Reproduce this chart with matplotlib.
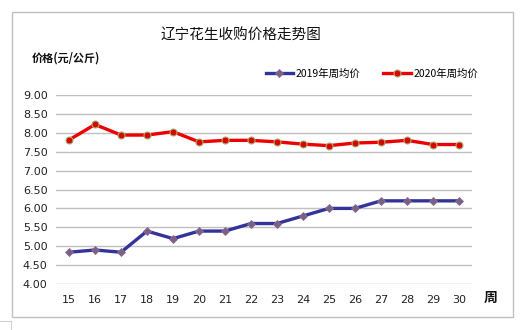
import matplotlib
matplotlib.use("Agg")
import matplotlib.pyplot as plt
from matplotlib.lines import Line2D
from matplotlib.patches import Rectangle

plt.rcParams['font.family'] = ['Noto Sans CJK SC', 'DejaVu Sans']

weeks = [str(w) for w in range(15, 31)]
price_2019 = [4.84, 4.90, 4.84, 5.40, 5.20, 5.40, 5.40, 5.60, 5.60, 5.80, 6.00, 6.00, 6.20, 6.20, 6.20, 6.20]
price_2020 = [7.81, 8.22, 7.94, 7.94, 8.03, 7.76, 7.80, 7.80, 7.76, 7.70, 7.66, 7.73, 7.75, 7.80, 7.69, 7.69]
yticks = [4.00, 4.50, 5.00, 5.50, 6.00, 6.50, 7.00, 7.50, 8.00, 8.50, 9.00]
labels = ['2019年周均价', '2020年周均价']
title = '辽宁花生收购价格走势图'

W, H = 524, 330
fig = plt.figure(figsize=(W / 100, H / 100), dpi=100)

# outer chart border
fig.patches.append(Rectangle((12 / W, 1 - 317 / H), (513 - 12) / W, (317 - 12) / H,
                             transform=fig.transFigure, fill=False, edgecolor='#c0c0c0', lw=1.0))
fig.add_artist(Line2D([0, 11 / W], [1 - 321 / H, 1 - 321 / H], transform=fig.transFigure, color='#d0d0d0', lw=0.8))
fig.add_artist(Line2D([11 / W, 11 / W], [1 - 321 / H, 0], transform=fig.transFigure, color='#d0d0d0', lw=0.8))

# plot area: x 56..472, y 95..284
ax = fig.add_axes([56 / W, 1 - 284 / H, (472 - 56) / W, (284 - 95) / H])
x = list(range(len(weeks)))
ax.plot(x, price_2019, color='#333399', lw=2.4, marker='D', markersize=4,
        markerfacecolor='#7f5f7f', markeredgecolor='#7f6f9f', markeredgewidth=0.6, label=labels[0], zorder=3)
ax.plot(x, price_2020, color='#ee0000', lw=2.4, marker='o', markersize=5,
        markerfacecolor='#dd0000', markeredgecolor='#a0b070', markeredgewidth=0.8, label=labels[1], zorder=3)

ax.set_xlim(-0.5, len(weeks) - 0.5)
ax.set_ylim(4.0, 9.0)
ax.set_yticks(yticks)
ax.set_yticklabels([f'{v:.2f}' for v in yticks], fontsize=8, color='#222222', family='DejaVu Sans')
ax.set_xticks(x)
ax.set_xticklabels(weeks, fontsize=8, color='#222222', family='DejaVu Sans')
ax.grid(axis='y', color='#c0c0c0', lw=1.0)
ax.set_axisbelow(True)
for s in ax.spines.values():
    s.set_visible(False)
ax.tick_params(length=0, pad=8)
ax.tick_params(axis='y', pad=6)

fig.text(241 / W, 1 - 36 / H, title, ha='center', va='center', fontsize=10.5, color='#111111')
fig.text(32 / W, 1 - 58 / H, '价格(元/公斤)', ha='left', va='center', fontsize=8, fontweight='bold', color='#111111')
fig.text(491 / W, 1 - 298 / H, '周', ha='center', va='center', fontsize=10, fontweight='bold', color='#111111')

fig.legend(loc='center', bbox_to_anchor=(372 / W, 1 - 74 / H), ncol=2, frameon=False,
           fontsize=7.5, handlelength=2.6, columnspacing=2.2, handletextpad=0.3)

fig.savefig('out.png', dpi=100, facecolor='white')
